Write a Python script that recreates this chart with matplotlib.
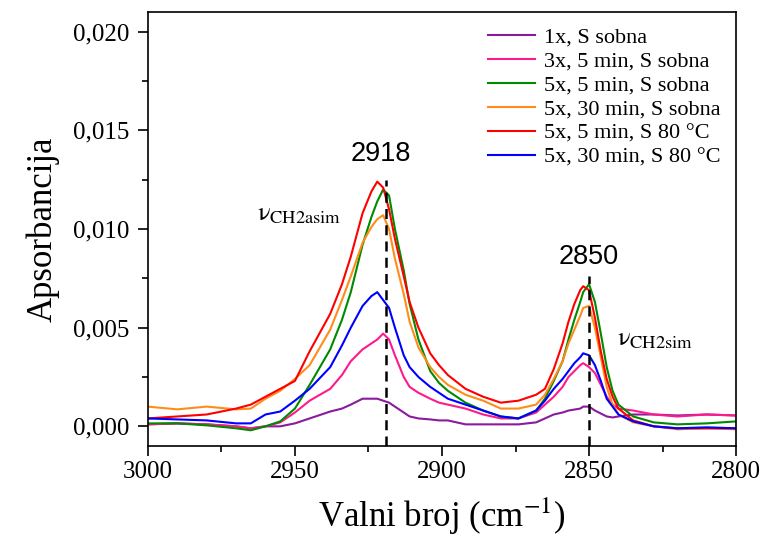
import matplotlib
matplotlib.use("Agg")
import matplotlib.pyplot as plt
from matplotlib.ticker import MultipleLocator, FuncFormatter

plt.rcParams['font.family'] = ['Liberation Serif', 'DejaVu Serif']
plt.rcParams['mathtext.fontset'] = 'stix'

# wavenumber grid (cm-1)
wn = [3000, 2990, 2980, 2970, 2965, 2960, 2955, 2950, 2945, 2938, 2934, 2931,
      2927, 2924, 2922, 2920, 2918, 2916, 2913, 2911, 2908, 2904, 2901, 2898,
      2892, 2886, 2880, 2874, 2868, 2865, 2862, 2859, 2857, 2855, 2853, 2852,
      2850, 2848, 2846, 2844, 2842, 2840, 2835, 2828, 2820, 2810, 2800]

s_1x = [0.0001, 0.00015, 0.0001, 0.0, -0.0001, 0.0, 0.0, 0.00015, 0.0004, 0.00075,
        0.0009, 0.0011, 0.0014, 0.0014, 0.0014, 0.0013, 0.0012, 0.0010, 0.0007,
        0.0005, 0.0004, 0.00035, 0.0003, 0.0003, 0.0001, 0.0001, 0.0001, 0.0001,
        0.0002, 0.0004, 0.0006, 0.0007, 0.0008, 0.00085, 0.0009, 0.0010, 0.0010,
        0.0008, 0.00065, 0.0005, 0.00045, 0.0005, 0.0006, 0.0006, 0.00055, 0.0006,
        0.00055]
s_3x_5 = [0.0001, 0.00015, 0.0001, 0.0, -0.0001, 0.0, 0.0002, 0.0007, 0.0013, 0.0019,
          0.0026, 0.0033, 0.0039, 0.0042, 0.0044, 0.0047, 0.0044, 0.0036, 0.0025,
          0.0020, 0.0017, 0.0014, 0.0012, 0.0011, 0.0009, 0.0006, 0.0004, 0.0004,
          0.0007, 0.0011, 0.0015, 0.0020, 0.0025, 0.0028, 0.0031, 0.0032, 0.0030,
          0.0027, 0.0021, 0.0015, 0.0011, 0.0009, 0.0008, 0.0006, 0.0005, 0.0006,
          0.00055]
s_5x_5 = [0.00015, 0.00015, 0.00005, -0.0001, -0.0002, 0.0, 0.00025, 0.0009, 0.0021,
          0.0039, 0.0054, 0.0068, 0.0092, 0.0106, 0.0114, 0.0120, 0.0117, 0.0100,
          0.0079, 0.0062, 0.0044, 0.0028, 0.0022, 0.0018, 0.0012, 0.0008, 0.0005,
          0.0004, 0.0008, 0.0014, 0.0023, 0.0033, 0.0044, 0.0054, 0.0063, 0.0068,
          0.0072, 0.0063, 0.0047, 0.0030, 0.0018, 0.0011, 0.0005, 0.0002, 0.0001,
          0.00015, 0.00025]
s_5x_30 = [0.0010, 0.00086, 0.0010, 0.00086, 0.0009, 0.0014, 0.0018, 0.0024, 0.0031,
           0.0049, 0.0064, 0.0076, 0.0093, 0.0101, 0.0105, 0.0107, 0.0100, 0.0085,
           0.0067, 0.0053, 0.0040, 0.0030, 0.0025, 0.0021, 0.0016, 0.0013, 0.0009,
           0.0009, 0.0011, 0.0016, 0.0024, 0.0033, 0.0042, 0.0049, 0.0056, 0.0060,
           0.0061, 0.0050, 0.0035, 0.0020, 0.0011, 0.0006, 0.0002, 0.0, -0.00015,
           -0.0001, -0.00015]
s_80_5 = [0.0004, 0.0005, 0.0006, 0.0009, 0.0011, 0.0015, 0.0019, 0.0023, 0.0038,
          0.0057, 0.0072, 0.0086, 0.0108, 0.0119, 0.0124, 0.0121, 0.0110, 0.0095,
          0.0076, 0.0063, 0.0050, 0.0037, 0.0031, 0.0026, 0.0019, 0.0015, 0.0012,
          0.0013, 0.0016, 0.0019, 0.0029, 0.0042, 0.0053, 0.0062, 0.0069, 0.0071,
          0.0069, 0.0055, 0.0038, 0.0024, 0.0015, 0.0009, 0.0003, 0.0, -0.0001,
          -0.0001, -0.0001]
s_80_30 = [0.0004, 0.00035, 0.0003, 0.00015, 0.00015, 0.0006, 0.00075, 0.0013, 0.0019,
           0.0030, 0.0041, 0.0050, 0.0061, 0.0066, 0.0068, 0.0064, 0.0060, 0.0050,
           0.0036, 0.0030, 0.0025, 0.0020, 0.0017, 0.0014, 0.0011, 0.0008, 0.0005,
           0.0004, 0.0008, 0.0013, 0.0019, 0.0024, 0.0028, 0.0032, 0.0035, 0.0037,
           0.0036, 0.0031, 0.0023, 0.0014, 0.0010, 0.0006, 0.00025, 0.0, -0.0001,
           -0.00005, -0.0001]

labels = ['1x, S sobna', '3x, 5 min, S sobna', '5x, 5 min, S sobna',
          '5x, 30 min, S sobna', '5x, 5 min, S 80 °C', '5x, 30 min, S 80 °C']
colors = ['#8A1A9E', '#FF1A8C', '#008A00', '#FF8C1A', '#FF0000', '#0000FF']
series = [s_1x, s_3x_5, s_5x_5, s_5x_30, s_80_5, s_80_30]

peak_pos = [2919, 2850]
peak_top = [0.01247, 0.0076]
peak_labels = ['2918', '2850']
peak_label_x = [2920.7, 2850.0]
peak_label_y = [0.0138, 0.0086]

fig = plt.figure(figsize=(7.66, 5.42), dpi=100)
ax = fig.add_axes([0.193, 0.177, 0.768, 0.801])

for s, c, lab in zip(series, colors, labels):
    ax.plot(wn, s, color=c, lw=1.5, label=lab)

for p, t in zip(peak_pos, peak_top):
    ax.vlines(p, -0.001, t, colors='k', linestyles=(0, (4, 2.5)), lw=1.8)
for lx, ly, lab in zip(peak_label_x, peak_label_y, peak_labels):
    ax.text(lx, ly, lab, ha='center', va='center', fontsize=19.5,
            family='Liberation Sans')

ax.text(2948.5, 0.0107, r'$\mathrm{\nu}_{\mathrm{CH2asim}}$', fontsize=19, ha='center', va='center')
ax.text(2827.5, 0.0044, r'$\mathrm{\nu}_{\mathrm{CH2sim}}$', fontsize=19, ha='center', va='center')

ax.set_xlim(3000, 2800)
ax.set_ylim(-0.001, 0.021)
ax.xaxis.set_major_locator(MultipleLocator(50))
ax.xaxis.set_minor_locator(MultipleLocator(25))
ax.yaxis.set_major_locator(MultipleLocator(0.005))
ax.yaxis.set_minor_locator(MultipleLocator(0.0025))
ax.yaxis.set_major_formatter(FuncFormatter(lambda v, pos: f"{v:.3f}".replace('.', ',')))

ax.tick_params(which='both', direction='out', width=1.2, labelsize=18)
ax.tick_params(axis='y', pad=6)
ax.tick_params(which='major', length=7)
ax.tick_params(which='minor', length=4)
for sp in ax.spines.values():
    sp.set_linewidth(1.2)

ax.set_ylabel('Apsorbancija', fontsize=25, labelpad=10)
ax.set_xlabel(r'Valni broj (cm$^{\mathrm{-1}}$)', fontsize=25, labelpad=9)

ax.legend(loc='upper right', frameon=False, fontsize=16, handlelength=2.1,
          labelspacing=0.15, borderaxespad=0.3, handletextpad=0.4)

fig.savefig('out.png', dpi=100)
